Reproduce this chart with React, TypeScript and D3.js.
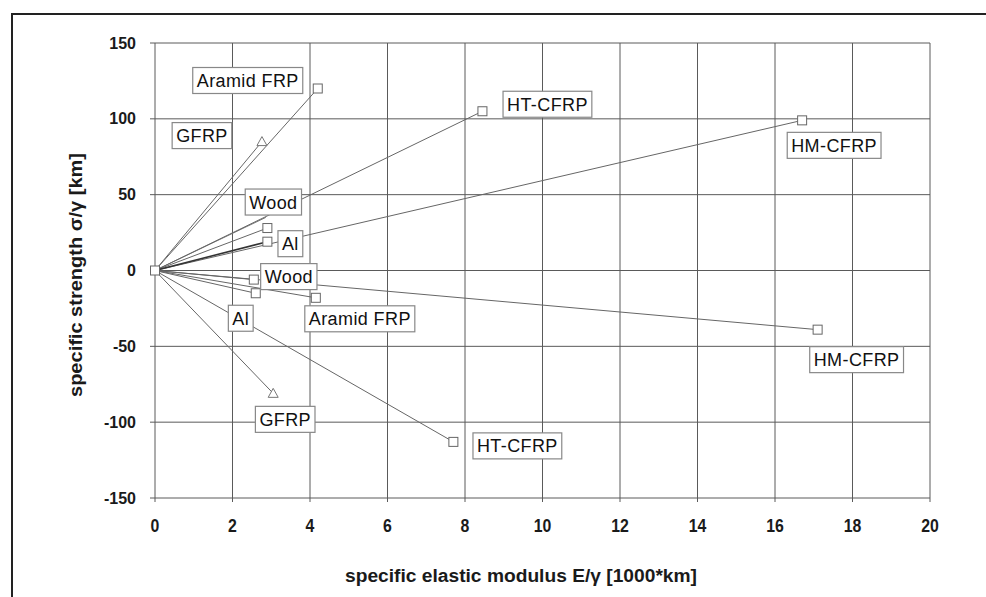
import React, { useRef, useEffect } from 'react'
import * as d3 from 'd3'

// chart values
const xTicks = [0, 2, 4, 6, 8, 10, 12, 14, 16, 18, 20]
const yTicks = [-150, -100, -50, 0, 50, 100, 150]

const materials = [
  'Aramid FRP', 'GFRP', 'HT-CFRP', 'HM-CFRP', 'Wood', 'Al',
  'Wood', 'Al', 'Aramid FRP', 'GFRP', 'HT-CFRP', 'HM-CFRP',
]
const modulus = [4.2, 2.76, 8.45, 16.7, 2.9, 2.9, 2.55, 2.6, 4.15, 3.05, 7.7, 17.1]
const strength = [120, 85, 105, 99, 28, 19, -6, -15, -18, -81, -113, -39]
const markers = ['square', 'triangle', 'square', 'square', 'square', 'square',
  'square', 'square', 'square', 'triangle', 'square', 'square']

// label box offsets from the point, in pixels
const labelDx = [-70, -60, 65, 32, 6, 23, 35, -15, 44, 12, 64, 39]
const labelDy = [-8, -6, -7, 25, -26, 2, -3, 25, 21, 26, 4, 30]

// a leader line that ends under the upper Wood label
const hiddenLine = [2.86, 35]

export default function App() {
  const svgRef = useRef(null)

  useEffect(() => {
    const svg = d3.select(svgRef.current)
    svg.selectAll('*').remove()

    const x = d3.scaleLinear().domain([0, 20]).range([155, 930])
    const y = d3.scaleLinear().domain([-150, 150]).range([498, 43])

    // outer frame (left + top only)
    svg.append('line').attr('x1', 12).attr('x2', 12).attr('y1', 14).attr('y2', 597)
      .attr('stroke', '#222').attr('stroke-width', 2)
    svg.append('line').attr('x1', 11).attr('x2', 986).attr('y1', 14).attr('y2', 14)
      .attr('stroke', '#222').attr('stroke-width', 2)

    // grid
    const grid = svg.append('g')
    grid.selectAll('.vg').data(xTicks).join('line')
      .attr('x1', (d) => x(d)).attr('x2', (d) => x(d))
      .attr('y1', y(150)).attr('y2', y(-150) + 4)
      .attr('stroke', '#5a5a5a').attr('stroke-width', 1)
    grid.selectAll('.hg').data(yTicks).join('line')
      .attr('x1', x(0) - 5).attr('x2', x(20))
      .attr('y1', (d) => y(d)).attr('y2', (d) => y(d))
      .attr('stroke', '#5a5a5a').attr('stroke-width', 1)

    // tick labels
    svg.append('g').selectAll('text').data(yTicks).join('text')
      .attr('x', 136).attr('y', (d) => y(d) + 5.5)
      .attr('text-anchor', 'end')
      .attr('font-family', 'Liberation Sans, Arial, sans-serif')
      .attr('font-weight', 'bold').attr('font-size', 16).attr('fill', '#1a1a1a')
      .text((d) => d)
    svg.append('g').selectAll('text').data(xTicks).join('text')
      .attr('transform', (d) => `translate(${x(d)},532) scale(0.88,1)`)
      .attr('text-anchor', 'middle')
      .attr('font-family', 'Liberation Sans, Arial, sans-serif')
      .attr('font-weight', 'bold').attr('font-size', 18).attr('fill', '#1a1a1a')
      .text((d) => d)

    // axis titles
    svg.append('text')
      .attr('x', 345).attr('y', 582)
      .attr('textLength', 352).attr('lengthAdjust', 'spacingAndGlyphs')
      .attr('font-family', 'Liberation Sans, Arial, sans-serif')
      .attr('font-weight', 'bold').attr('font-size', 18).attr('fill', '#1a1a1a')
      .text('specific elastic modulus E/γ [1000*km]')
    svg.append('text')
      .attr('transform', 'translate(82,397) rotate(-90)')
      .attr('textLength', 244).attr('lengthAdjust', 'spacingAndGlyphs')
      .attr('font-family', 'Liberation Sans, Arial, sans-serif')
      .attr('font-weight', 'bold').attr('font-size', 19).attr('fill', '#1a1a1a')
      .text('specific strength σ/γ [km]')

    // lines from the origin
    const lines = svg.append('g')
    lines.append('line')
      .attr('x1', x(0)).attr('y1', y(0))
      .attr('x2', x(hiddenLine[0])).attr('y2', y(hiddenLine[1]))
      .attr('stroke', '#777').attr('stroke-width', 1)
    lines.selectAll('.ln').data(materials).join('line')
      .attr('x1', x(0)).attr('y1', y(0))
      .attr('x2', (d, i) => x(modulus[i])).attr('y2', (d, i) => y(strength[i]))
      .attr('stroke', (d, i) => (i === 5 ? '#333' : '#666'))
      .attr('stroke-width', (d, i) => (i === 5 ? 1.6 : 1))

    // markers (end points plus origin)
    const mk = svg.append('g')
    const drawMarker = (cx, cy, type) => {
      if (type === 'triangle') {
        mk.append('path')
          .attr('d', `M${cx},${cy - 5}L${cx + 5},${cy + 4}L${cx - 5},${cy + 4}Z`)
          .attr('fill', 'white').attr('stroke', '#777').attr('stroke-width', 1)
      } else {
        mk.append('rect')
          .attr('x', cx - 4.5).attr('y', cy - 4.5).attr('width', 9).attr('height', 9)
          .attr('fill', 'white').attr('stroke', '#666').attr('stroke-width', 1)
      }
    }
    drawMarker(x(0), y(0), 'square')
    materials.forEach((m, i) => drawMarker(x(modulus[i]), y(strength[i]), markers[i]))

    // labels with boxes
    const lg = svg.append('g')
    materials.forEach((m, i) => {
      const cx = x(modulus[i]) + labelDx[i]
      const cy = y(strength[i]) + labelDy[i]
      const g = lg.append('g')
      const rect = g.append('rect').attr('fill', 'white')
        .attr('stroke', '#888').attr('stroke-width', 1.2)
      const t = g.append('text')
        .attr('x', cx).attr('y', cy + 6.5).attr('text-anchor', 'middle')
        .attr('font-family', 'Liberation Sans, Arial, sans-serif')
        .attr('font-size', 18).attr('letter-spacing', 0.4).attr('fill', '#111')
        .text(m)
      const bb = t.node().getBBox()
      const w = bb.width + 8
      rect.attr('x', cx - w / 2).attr('y', cy - 13).attr('width', w).attr('height', 26)
    })
  }, [])

  return (
    <svg
      ref={svgRef}
      width={986}
      height={597}
      style={{ position: 'absolute', left: 0, top: 0, background: 'white' }}
    />
  )
}
